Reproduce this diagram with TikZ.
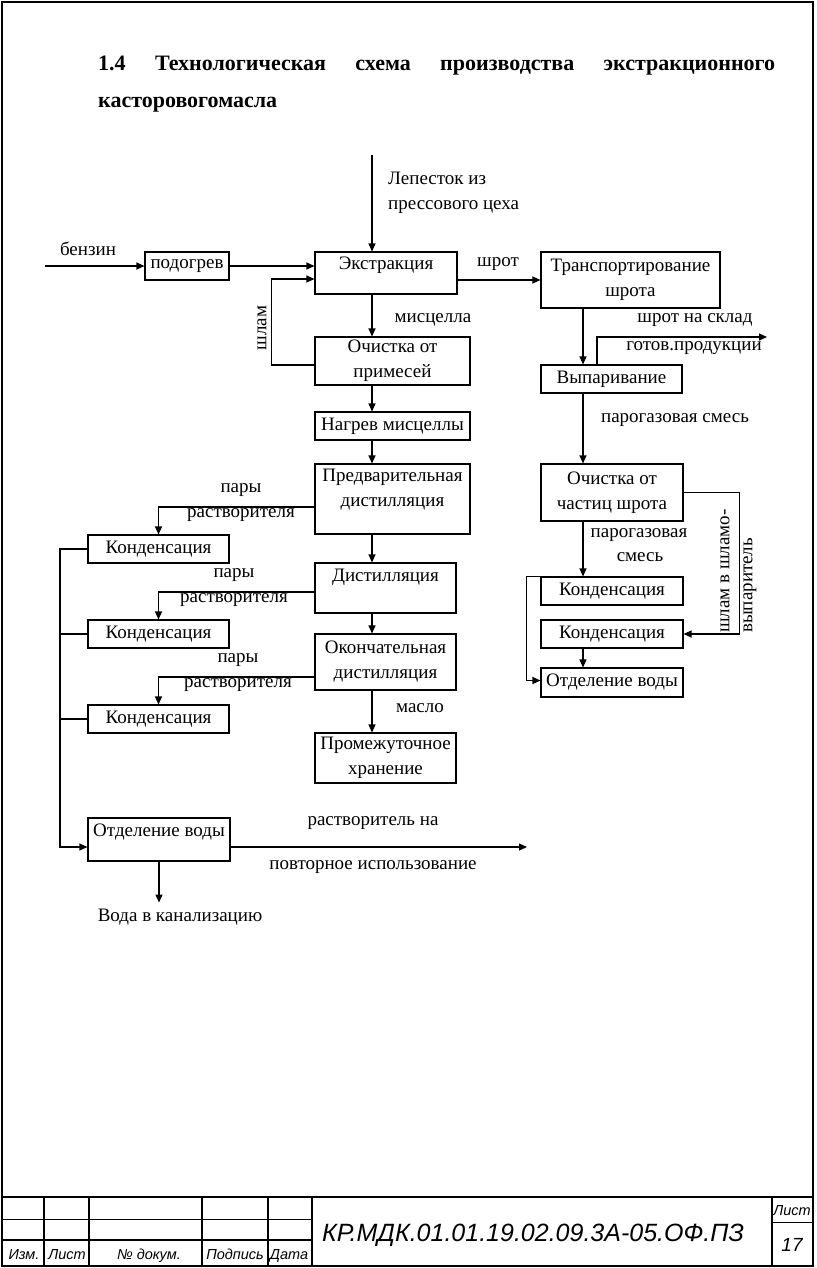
\documentclass[tikz,border=0pt]{standalone}
\usepackage{fontspec}
\setmainfont{Liberation Serif}
\newfontfamily\stampfont{Liberation Sans}
\usetikzlibrary{arrows.meta}
\newcommand\bodyfont{\fontsize{19}{25}\selectfont}
\newcommand\titlefont{\fontsize{22}{26}\selectfont\bfseries}
\tikzset{
  box/.style={draw, line width=1.1pt, inner sep=0pt, align=center, font=\bodyfont},
  lbl/.style={inner sep=0pt, align=center, font=\bodyfont},
  arr/.style={line width=1.1pt, -{Triangle[length=8pt,width=7pt]}},
  ln/.style={line width=1.1pt},
  frm/.style={line width=2.4pt},
  thn/.style={line width=1pt},
  stamp/.style={inner sep=0pt, anchor=base, font=\stampfont\itshape\fontsize{14.5}{16}\selectfont},
}
\begin{document}
\begin{tikzpicture}[x=1pt,y=-1pt]
\useasboundingbox (0,0) rectangle (816,1268);
\fill[white] (0,0) rectangle (816,1268);

% ---- title ----
\node[inner sep=0pt, anchor=base west, font=\titlefont] (t1) at (98,71)
  {\hbox to 677pt{1.4\hfil Технологическая\hfil схема\hfil производства\hfil экстракционного}};
\node[inner sep=0pt, anchor=base west, font=\titlefont] (t2) at (98,108) {касторовогомасла};

% ---- coordinates ----
\coordinate (mx) at (372,0);
\coordinate (rx) at (583,0);
\coordinate (vx) at (597,0);
\coordinate (colx) at (60,0);
\coordinate (ctop) at (372,155);
\coordinate (benz) at (45,266);
\coordinate (sklad) at (767,337);
\coordinate (reuse) at (527,847);

% ---- boxes ----
\node[box, minimum width=84pt, minimum height=28pt] (podogrev) at (187,266) {подогрев};
\node[box, minimum width=142pt, minimum height=42pt,
      label={[lbl,yshift=8pt]center:Экстракция}] (extr) at (386,273) {};
\node[box, minimum width=179pt, minimum height=56pt] (transp) at (630.5,280) {Транспортирование\\шрота};
\node[box, minimum width=155pt, minimum height=48pt] (ochist1) at (392.5,361) {Очистка от\\примесей};
\node[box, minimum width=141pt, minimum height=28pt] (vypar) at (611.5,379) {Выпаривание};
\node[box, minimum width=155pt, minimum height=28pt] (nagrev) at (392.5,426) {Нагрев мисцеллы};
\node[box, minimum width=142pt, minimum height=57pt] (ochist2) at (612,492.5) {Очистка от\\частиц шрота};
\node[box, minimum width=155pt, minimum height=70pt,
      label={[lbl,yshift=9pt]center:Предварительная\\дистилляция}] (predv) at (392.5,499) {};
\node[box, minimum width=141pt, minimum height=28pt] (kond1) at (158.5,549) {Конденсация};
\node[box, minimum width=141pt, minimum height=50pt,
      label={[lbl,yshift=11pt]center:Дистилляция}] (dist) at (385.5,588) {};
\node[box, minimum width=141pt, minimum height=28pt] (kond2) at (158.5,634) {Конденсация};
\node[box, minimum width=141pt, minimum height=56pt] (okonch) at (385.5,662) {Окончательная\\дистилляция};
\node[box, minimum width=141pt, minimum height=28pt] (kond3) at (158.5,719) {Конденсация};
\node[box, minimum width=141pt, minimum height=50pt] (prom) at (385.5,758) {Промежуточное\\хранение};
\node[box, minimum width=142pt, minimum height=43pt,
      label={[lbl,yshift=7.5pt]center:Отделение воды}] (otdelL) at (159,839.5) {};
\node[box, minimum width=142pt, minimum height=28pt] (kondR1) at (612,591) {Конденсация};
\node[box, minimum width=142pt, minimum height=28pt] (kondR2) at (612,634) {Конденсация};
\node[box, minimum width=142pt, minimum height=29pt] (otdelR) at (612,682.5) {Отделение воды};

% ---- labels ----
\node[lbl, anchor=west, align=left] (lep) at (388,192.5) {Лепесток из\\прессового цеха};
\node[lbl] (lbenz) at (88,249) {бензин};
\node[lbl] (lshrot) at (498,264) {шрот};
\node[lbl] (lmisc) at (433,320) {мисцелла};
\node[lbl, rotate=90] (lshlam) at (262,328) {шлам};
\node[lbl] (lsklad1) at (695,320) {шрот на склад};
\node[lbl] (lsklad2) at (694,348) {готов.продукции};
\node[lbl] (lpar1) at (675,420) {парогазовая смесь};
\node[lbl] (lpar2) at (639,535) {парогазовая};
\node[lbl] (lpar3) at (640,557) {смесь};
\node[lbl, rotate=90, anchor=west, align=left] (lshlam2) at (738.5,633) {шлам в шламо-\\[-2pt]выпаритель};
\node[lbl] (lp1) at (241,503) {пары\\растворителя};
\node[lbl] (lp2) at (234,588) {пары\\растворителя};
\node[lbl] (lp3) at (238,673) {пары\\растворителя};
\node[lbl] (lmaslo) at (420,708) {масло};
\node[lbl] (lreuse1) at (373,823) {растворитель на};
\node[lbl] (lreuse2) at (373,867) {повторное использование};
\node[lbl] (lvoda) at (180,917) {Вода в канализацию};

% ---- connectors ----
\draw[arr] (ctop) -- (ctop |- extr.north);
\draw[arr] (benz) -- (podogrev.west);
\draw[arr] (podogrev.east) -- (podogrev.east -| extr.west);
\draw[arr] ([yshift=-4pt]ochist1.west) -- ++(-43,0) |- ([yshift=-6pt]extr.west);
\draw[arr] (extr.south -| mx) -- (ochist1.north -| mx);
\draw[arr] (ochist1.south -| mx) -- (nagrev.north -| mx);
\draw[arr] (nagrev.south -| mx) -- (predv.north -| mx);
\draw[arr] (predv.south -| mx) -- (dist.north -| mx);
\draw[arr] (dist.south -| mx) -- (okonch.north -| mx);
\draw[arr] (okonch.south -| mx) -- (prom.north -| mx);

\draw[arr] ([yshift=-7pt]extr.east) -- (transp.west);
\draw[arr] (transp.south -| rx) -- (vypar.north -| rx);
\draw[arr] (vypar.north -| vx) |- (sklad);
\draw[arr] (vypar.south -| rx) -- (ochist2.north -| rx);
\draw[arr] (ochist2.south -| rx) -- (kondR1.north -| rx);
\draw[arr] (ochist2.east) -- ++(56,0) |- (kondR2.east);
\draw[arr] (kondR2.south -| rx) -- (otdelR.north -| rx);
\draw[arr] (kondR1.north west) -- ++(-14,0) |- ([yshift=2pt]otdelR.west);

\draw[arr] ([yshift=-8pt]predv.west) -| (kond1.north);
\draw[arr] ([yshift=-4pt]dist.west) -| (kond2.north);
\draw[arr] ([yshift=-15pt]okonch.west) -| (kond3.north);

\draw[arr] (kond1.west) -- (kond1.west -| colx) |- ([yshift=-7.5pt]otdelL.west);
\draw[ln] (kond2.west) -- (kond2.west -| colx);
\draw[ln] (kond3.west) -- (kond3.west -| colx);
\draw[arr] ([yshift=-7.5pt]otdelL.east) -- (reuse);
\draw[arr] (otdelL.south) -- ++(0,41);

% ---- frame and stamp ----
\draw[frm] (2,2) rectangle (813,1266);
\draw[frm] (2,1197) -- (813,1197);
\foreach \xx in {44,89,202,268,312,772} \draw[frm] (\xx,1197) -- (\xx,1266);
\draw[thn] (2,1219) -- (312,1219);
\draw[frm] (2,1240) -- (312,1240);
\draw[thn] (772,1222) -- (813,1222);
\node[stamp] (s1) at (24,1259) {Изм.};
\node[stamp] (s2) at (67,1259) {Лист};
\node[stamp] (s3) at (149,1259) {№ докум.};
\node[stamp] (s4) at (235,1259) {Подпись};
\node[stamp] (s5) at (289,1259) {Дата};
\node[stamp] (s6) at (792,1215) {Лист};
\node[stamp, font=\stampfont\itshape\fontsize{19}{20}\selectfont] (s7) at (792,1251) {17};
\node[stamp, font=\stampfont\itshape\fontsize{25}{28}\selectfont] (code) at (533,1241) {КР.МДК.01.01.19.02.09.3А-05.ОФ.ПЗ};
\end{tikzpicture}
\end{document}
